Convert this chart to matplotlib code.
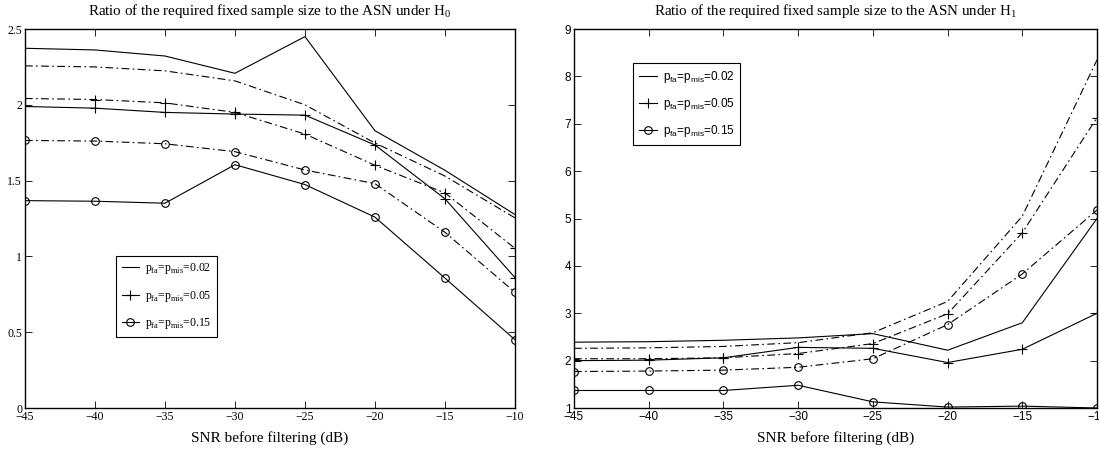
import matplotlib
matplotlib.use("Agg")
import matplotlib.pyplot as plt

plt.rcParams["mathtext.fontset"] = "custom"
plt.rcParams["mathtext.rm"] = "Liberation Serif"
plt.rcParams["mathtext.sf"] = "Liberation Sans"

snr = [-45, -40, -35, -30, -25, -20, -15, -10]
probs = ["0.02", "0.05", "0.15"]

# ratio under H0: solid and dash-dot curve for each error probability
h0_solid_02 = [2.373, 2.362, 2.322, 2.208, 2.45, 1.829, 1.568, 1.276]
h0_solid_05 = [1.989, 1.978, 1.95, 1.939, 1.932, 1.735, 1.38, 0.86]
h0_solid_15 = [1.368, 1.364, 1.351, 1.605, 1.474, 1.259, 0.857, 0.45]
h0_dash_02 = [2.257, 2.25, 2.224, 2.158, 2.0, 1.748, 1.53, 1.254]
h0_dash_05 = [2.042, 2.035, 2.013, 1.95, 1.807, 1.601, 1.419, 1.053]
h0_dash_15 = [1.765, 1.761, 1.743, 1.691, 1.57, 1.48, 1.159, 0.763]

# ratio under H1
h1_solid_02 = [2.39, 2.40, 2.43, 2.48, 2.57, 2.22, 2.80, 5.0]
h1_solid_05 = [2.0, 2.01, 2.06, 2.28, 2.26, 1.96, 2.24, 3.0]
h1_solid_15 = [1.37, 1.37, 1.37, 1.48, 1.13, 1.02, 1.04, 1.0]
h1_dash_02 = [2.26, 2.27, 2.30, 2.38, 2.59, 3.25, 5.05, 8.35]
h1_dash_05 = [2.04, 2.04, 2.06, 2.15, 2.36, 2.99, 4.70, 7.13]
h1_dash_15 = [1.77, 1.78, 1.80, 1.86, 2.04, 2.76, 3.83, 5.18]

serif = "Liberation Serif"
sans = "Liberation Sans"
dashdot = (0, (7, 3, 1.5, 3))
lw = 0.8

fig = plt.figure(figsize=(10.99, 4.5), dpi=100)
ax1 = fig.add_axes([0.0227, 0.0933, 0.4459, 0.8422])
ax2 = fig.add_axes([0.5223, 0.0933, 0.4759, 0.8422])


def draw(ax, solids, dashes, mfont):
    markers = ["None", "+", "o"]
    sizes = [6, 6.5, 5.5]
    for ys, m, s, p in zip(solids, markers, sizes, probs):
        lab = "p$_{\\math%s{fa}}$=p$_{\\math%s{mis}}$=%s" % (mfont, mfont, p)
        ax.plot(snr, ys, color="k", lw=lw, marker=m, ms=s, mfc="none",
                mew=0.8, label=lab)
    for ys, m, s in zip(dashes, markers, sizes):
        ax.plot(snr, ys, color="k", lw=lw, marker=m, ms=s, mfc="none",
                mew=0.8, linestyle=dashdot)


draw(ax1, [h0_solid_02, h0_solid_05, h0_solid_15],
     [h0_dash_02, h0_dash_05, h0_dash_15], "rm")
draw(ax2, [h1_solid_02, h1_solid_05, h1_solid_15],
     [h1_dash_02, h1_dash_05, h1_dash_15], "sf")

ax1.set_xlim(-45, -10)
ax1.set_ylim(0, 2.5)
ax1.set_yticks([0, 0.5, 1, 1.5, 2, 2.5])
ax1.set_yticklabels(["0", "0.5", "1", "1.5", "2", "2.5"])
ax2.set_xlim(-45, -10)
ax2.set_ylim(1, 9)
ax2.set_yticks(range(1, 10))

for ax, fam in [(ax1, serif), (ax2, sans)]:
    ax.set_xticks(snr)
    ax.set_xticklabels(["\u2212%d" % abs(v) for v in snr])
    ax.tick_params(direction="in", top=True, right=True, length=5,
                   width=0.6, labelsize=8.5, pad=2)
    for t in ax.get_xticklabels() + ax.get_yticklabels():
        t.set_family(fam)
    for s in ax.spines.values():
        s.set_linewidth(1.0)
    ax.set_xlabel("SNR before filtering (dB)", family=serif, fontsize=11,
                  labelpad=6)

ax1.set_title(r"Ratio of the required fixed sample size to the ASN under H$_{\mathrm{0}}$",
              family=serif, fontsize=10.8, pad=10)
ax2.set_title(r"Ratio of the required fixed sample size to the ASN under H$_{\mathrm{1}}$",
              family=serif, fontsize=10.8, pad=10)

leg1 = ax1.legend(loc="lower left", bbox_to_anchor=(0.185, 0.187),
                  fancybox=False, edgecolor="k", framealpha=1,
                  handlelength=1.5, handletextpad=0.5, labelspacing=1.05,
                  borderpad=0.5, borderaxespad=0,
                  prop={"family": serif, "size": 8.5})
leg1.get_frame().set_linewidth(0.8)
leg2 = ax2.legend(loc="upper left", bbox_to_anchor=(0.113, 0.91),
                  fancybox=False, edgecolor="k", framealpha=1,
                  handlelength=1.5, handletextpad=0.5, labelspacing=0.95,
                  borderpad=0.5, borderaxespad=0,
                  prop={"family": sans, "size": 8.5})
leg2.get_frame().set_linewidth(0.8)

fig.savefig("out.png", dpi=100)
